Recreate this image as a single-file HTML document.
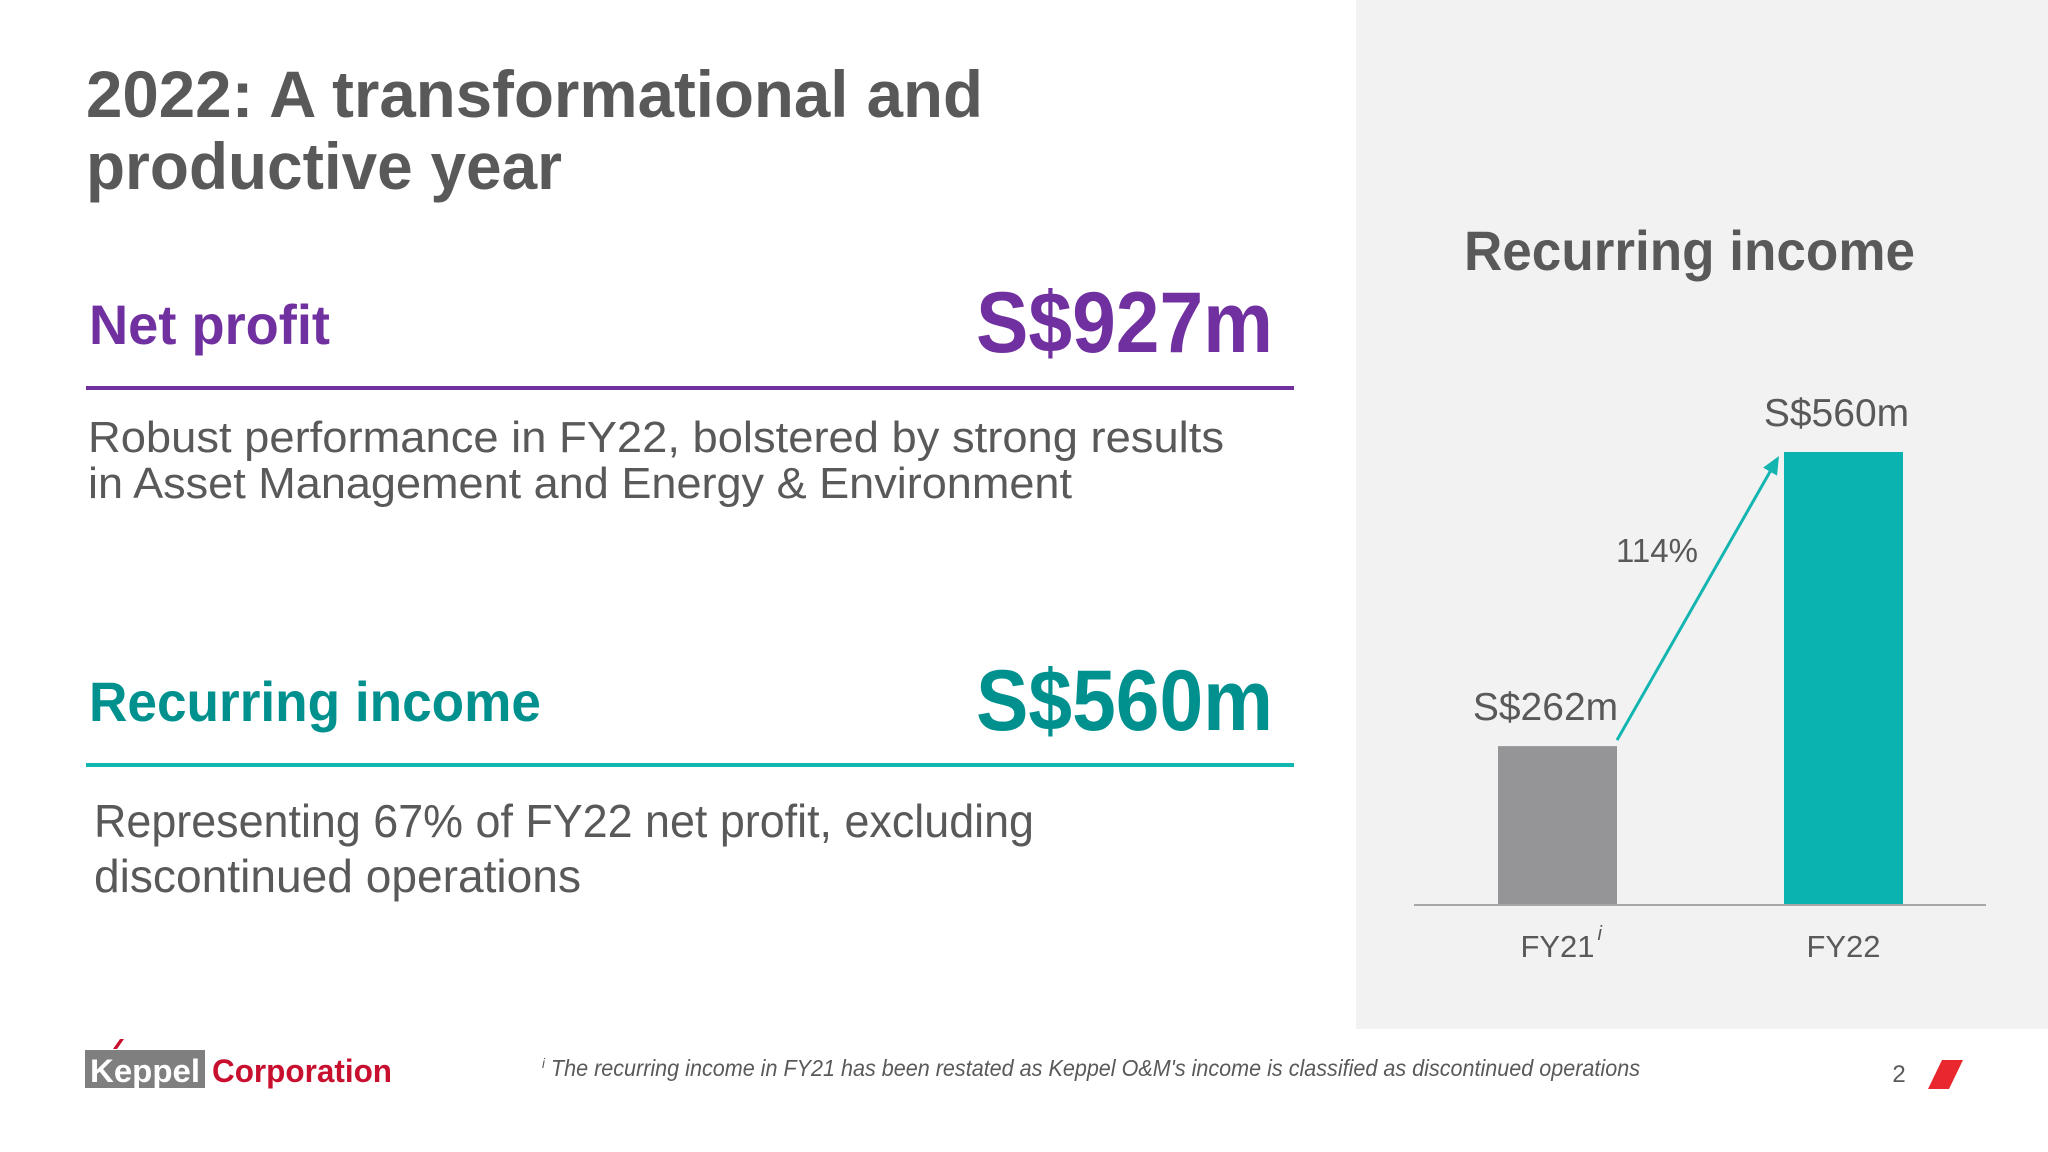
<!DOCTYPE html>
<html><head><meta charset="utf-8"><style>
html,body{margin:0;padding:0;background:#fff;}
svg{display:block;font-family:"Liberation Sans",sans-serif;}
</style></head><body>
<svg id="slide" width="2048" height="1152" viewBox="0 0 2048 1152">
<rect x="0" y="0" width="2048" height="1152" fill="#ffffff"/>
<rect x="1356" y="0" width="692" height="1029" fill="#f2f2f3"/>
<g fill="#595959" font-weight="bold" font-size="66">
<text x="86" y="117" textLength="897" lengthAdjust="spacingAndGlyphs">2022: A transformational and</text>
<text x="86" y="189" textLength="476" lengthAdjust="spacingAndGlyphs">productive year</text>
</g>
<text x="89" y="344" font-size="56" font-weight="bold" fill="#7030a0" textLength="241" lengthAdjust="spacingAndGlyphs">Net profit</text>
<text x="976" y="352" font-size="86" font-weight="bold" fill="#7030a0" textLength="297" lengthAdjust="spacingAndGlyphs">S$927m</text>
<rect x="86" y="386" width="1208" height="4" fill="#7030a0"/>
<g fill="#595959" font-size="44">
<text x="88" y="452" textLength="1136" lengthAdjust="spacingAndGlyphs">Robust performance in FY22, bolstered by strong results</text>
<text x="88" y="498" textLength="984" lengthAdjust="spacingAndGlyphs">in Asset Management and Energy &amp; Environment</text>
</g>
<text x="89" y="721" font-size="56" font-weight="bold" fill="#00918f" textLength="452" lengthAdjust="spacingAndGlyphs">Recurring income</text>
<text x="976" y="730" font-size="86" font-weight="bold" fill="#00918f" textLength="297" lengthAdjust="spacingAndGlyphs">S$560m</text>
<rect x="86" y="763" width="1208" height="4" fill="#12b5b0"/>
<g fill="#595959" font-size="46">
<text x="94" y="837" textLength="940" lengthAdjust="spacingAndGlyphs">Representing 67% of FY22 net profit, excluding</text>
<text x="94" y="892" textLength="487" lengthAdjust="spacingAndGlyphs">discontinued operations</text>
</g>
<text x="1464" y="270" font-size="56" font-weight="bold" fill="#595959" textLength="451" lengthAdjust="spacingAndGlyphs">Recurring income</text>
<g id="chart"></g>
<g>
<rect x="85" y="1050" width="120" height="38" fill="#7f7f7f"/>
<text x="90" y="1082" font-size="32" font-weight="bold" fill="#fff" textLength="110" lengthAdjust="spacingAndGlyphs">Keppel</text>
<polygon points="113,1049 120,1039 124,1039 117,1049" fill="#c8102e"/>
<text x="212" y="1082" font-size="32" font-weight="bold" fill="#c8102e" textLength="180" lengthAdjust="spacingAndGlyphs">Corporation</text>
</g>
<text x="542" y="1076" font-size="23" font-style="italic" fill="#595959" textLength="1098" lengthAdjust="spacingAndGlyphs"><tspan font-size="14" dy="-8">i</tspan><tspan dy="8"> The recurring income in FY21 has been restated as Keppel O&amp;M's income is classified as discontinued operations</tspan></text>
<text x="1899" y="1082" font-size="24" fill="#595959" text-anchor="middle">2</text>
<polygon points="1942,1060 1963,1060 1949,1089 1928,1089" fill="#e8272f"/>
</svg>
<script>
const categories = ["FY21", "FY22"];
const values = [262, 560];
const valueLabels = ["S$262m", "S$560m"];
const growthLabel = "114%";
const NS = "http://www.w3.org/2000/svg";
const g = document.getElementById("chart");
const baseY = 905, domMin = 101, domMax = 560, topY = 452;
function y(v){ return baseY - (v - domMin) / (domMax - domMin) * (baseY - topY); }
const band0 = 1498, bandStep = 286, barW = 119;
function x(i){ return band0 + i * bandStep; }
const colors = ["#959597", "#0ab3b0"];
function mk(tag, attrs){ const e = document.createElementNS(NS, tag); for (const k in attrs) e.setAttribute(k, attrs[k]); g.appendChild(e); return e; }
categories.forEach((c, i) => {
  const r = mk("rect", {x: x(i), y: y(values[i]), width: barW, height: baseY - y(values[i]), fill: colors[i]});
  
  
  const t = mk("text", {x: x(i) + barW/2 + (i === 0 ? -12 : -7), y: y(values[i]) - 26, "font-size": 39, fill: "#595959", "text-anchor": "middle"});
  t.textContent = valueLabels[i];
  
  
  const xl = mk("text", {x: x(i) + barW/2, y: 957, "font-size": 31, fill: "#595959", "text-anchor": "middle"});
  xl.textContent = c;
  
  
  if (i === 0) {
    const s = mk("text", {x: x(i) + barW/2 + 40, y: 940, "font-size": 20, "font-style": "italic", fill: "#595959"});
    s.textContent = "i";
    
    
  }
});
const axis = mk("line", {x1: 1414, x2: 1986, y1: baseY, y2: baseY, stroke: "#a6a6a6", "stroke-width": 2});


const x1 = x(0) + barW, y1 = y(values[0]) - 6, x2 = x(1) - 5, y2 = y(values[1]) + 4;
const ang = Math.atan2(y2 - y1, x2 - x1);
const ln = mk("line", {x1: x1, y1: y1, x2: x2 - 14*Math.cos(ang), y2: y2 - 14*Math.sin(ang), stroke: "#12b5b0", "stroke-width": 3});


const a = 18, w = 8;
const bx = x2 - a*Math.cos(ang), by = y2 - a*Math.sin(ang);
const head = mk("polygon", {points: `${x2},${y2} ${bx + w*Math.sin(ang)},${by - w*Math.cos(ang)} ${bx - w*Math.sin(ang)},${by + w*Math.cos(ang)}`, fill: "#12b5b0"});


const gl = mk("text", {x: 1657, y: 562, "font-size": 33, fill: "#595959", "text-anchor": "middle"});
gl.textContent = growthLabel;


</script>
</body></html>
